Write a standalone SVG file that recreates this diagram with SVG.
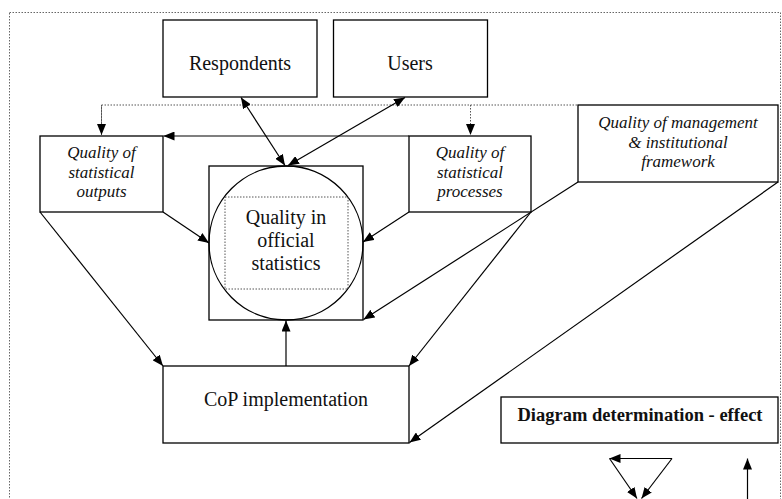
<svg xmlns="http://www.w3.org/2000/svg" width="782" height="499" viewBox="0 0 782 499">
<defs>
<marker id="ah" viewBox="0 0 11 9" refX="11" refY="4.5" markerWidth="11" markerHeight="9" markerUnits="userSpaceOnUse" orient="auto-start-reverse"><path d="M0,0 L11,4.5 L0,9 Z" fill="#000"/></marker>
</defs>
<style>
.box{fill:#fff;stroke:#000;stroke-width:1.3}
.t{fill:#111;text-anchor:middle}
.big{font-size:20px}
.it{font-size:17px;font-style:italic}
.bd{font-size:18.5px;font-weight:bold}
.c{fill:none;stroke:#000;stroke-width:1.2}
.d{fill:none;stroke:#555;stroke-width:1;stroke-dasharray:1.5 1.5}
</style>
<rect x="9.5" y="12.5" width="771" height="490" fill="#fff" stroke="#666" stroke-width="1" stroke-dasharray="1.5 1.5"/>

<g font-family="'Liberation Serif', 'DejaVu Serif', 'Times New Roman', serif">
<g id="respondents"><rect class="box" x="163" y="20" width="154" height="77"/><text class="t big" x="240" y="70">Respondents</text></g>
<g id="users"><rect class="box" x="333.5" y="20" width="154" height="77"/><text class="t big" x="410" y="70">Users</text></g>
<g id="outputs"><rect class="box" x="40" y="136" width="123" height="76"/><text class="t it" x="101.5" y="158">Quality of</text><text class="t it" x="101.5" y="178">statistical</text><text class="t it" x="101.5" y="197">outputs</text></g>
<g id="processes"><rect class="box" x="409" y="136" width="122" height="76"/><text class="t it" x="470" y="158">Quality of</text><text class="t it" x="470" y="178">statistical</text><text class="t it" x="470" y="197">processes</text></g>
<g id="management"><rect class="box" x="578" y="105" width="200" height="77"/><text class="t it" x="678" y="127.5">Quality of management</text><text class="t it" x="678" y="147.5">&amp; institutional</text><text class="t it" x="678" y="166.5">framework</text></g>
<g id="quality"><rect class="box" x="209" y="166" width="154" height="154"/><circle cx="286" cy="243" r="77" fill="none" stroke="#000" stroke-width="1.3"/><rect x="225" y="197" width="123" height="92" fill="none" stroke="#555" stroke-width="1" stroke-dasharray="1.5 1.5"/><text class="t big" x="286" y="224">Quality in</text><text class="t big" x="286" y="247">official</text><text class="t big" x="286" y="270">statistics</text></g>
<g id="cop"><rect class="box" x="163" y="366" width="246" height="77"/><text class="t big" x="286" y="406">CoP implementation</text></g>
<g id="legend"><rect class="box" x="501" y="397" width="277" height="46"/><text class="t bd" x="640" y="421">Diagram determination - effect</text></g>
</g>

<g id="connectors">
<path class="d" d="M101.5,135 V105 H578"/>
<path class="d" d="M101.5,105 V135" marker-end="url(#ah)"/>
<path class="d" d="M470.5,105 V135" marker-end="url(#ah)"/>
<line class="c" x1="409" y1="136" x2="163.5" y2="136" marker-end="url(#ah)"/>
<line class="c" x1="241" y1="97.5" x2="285" y2="165.5" marker-start="url(#ah)" marker-end="url(#ah)"/>
<line class="c" x1="405" y1="97.5" x2="288" y2="165.5" marker-start="url(#ah)" marker-end="url(#ah)"/>
<line class="c" x1="163" y1="212" x2="209" y2="243" marker-end="url(#ah)"/>
<line class="c" x1="40" y1="212" x2="163" y2="366" marker-end="url(#ah)"/>
<line class="c" x1="409" y1="212" x2="363" y2="242" marker-end="url(#ah)"/>
<line class="c" x1="531" y1="212" x2="409" y2="366" marker-end="url(#ah)"/>
<line class="c" x1="578" y1="182" x2="363.5" y2="319.5" marker-end="url(#ah)"/>
<line class="c" x1="778" y1="182" x2="409.5" y2="442.5" marker-end="url(#ah)"/>
<line class="c" x1="286" y1="366" x2="286" y2="320.5" marker-end="url(#ah)"/>
<line class="c" x1="672" y1="458.5" x2="609.5" y2="458.5" marker-end="url(#ah)"/>
<line class="c" x1="672" y1="458.5" x2="641.5" y2="498.5" marker-end="url(#ah)"/>
<line class="c" x1="609.5" y1="458.5" x2="637" y2="498.5" marker-end="url(#ah)"/>
<line class="c" x1="747.5" y1="500" x2="747.5" y2="458.5" marker-end="url(#ah)"/>
</g>
</svg>
